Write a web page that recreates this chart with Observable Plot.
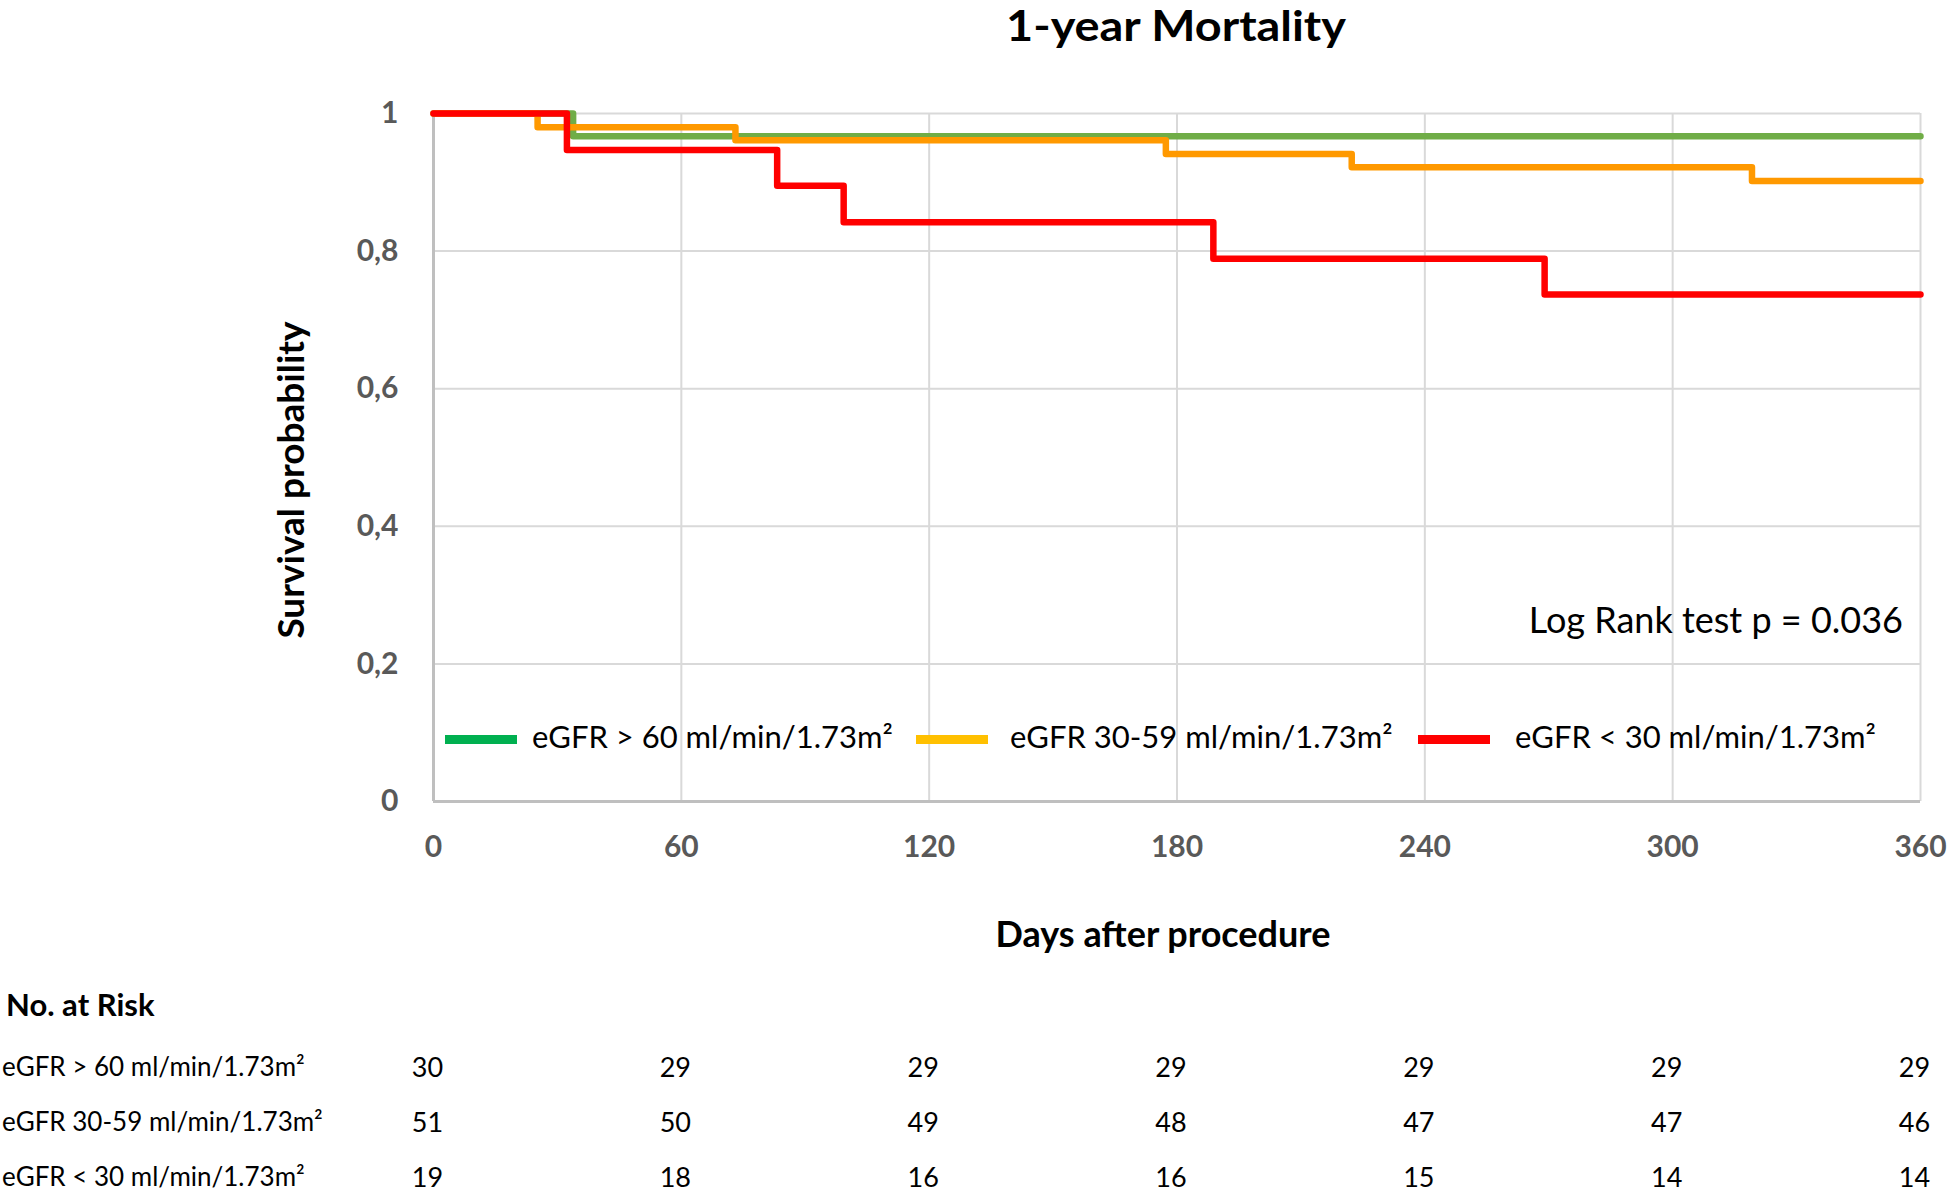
<!DOCTYPE html>
<html>
<head>
<meta charset="utf-8">
<script src="https://cdn.jsdelivr.net/npm/d3@7"></script>
<script src="https://cdn.jsdelivr.net/npm/@observablehq/plot@0.6"></script>
<style>
  body { margin: 0; background: #fff; }
  #chart { position: relative; width: 1948px; height: 1191px; }
</style>
</head>
<body>
<div id="chart"></div>
<script>
// ---- data ----
const groups = ["eGFR > 60 ml/min/1.73m²", "eGFR 30-59 ml/min/1.73m²", "eGFR < 30 ml/min/1.73m²"];
const lineColors = ["#70AD47", "#FF9900", "#FF0000"];
const legendColors = ["#00B050", "#FFC000", "#FF0000"];

// Kaplan-Meier step points (day, survival)
const greenDays  = [0, 33.8, 360];
const greenSurv  = [1, 0.967, 0.967];
const orangeDays = [0, 25.2, 73.1, 177.3, 222.3, 319.2, 360];
const orangeSurv = [1, 0.980, 0.961, 0.941, 0.922, 0.902, 0.902];
const redDays    = [0, 32.3, 83.2, 99.3, 188.8, 269.0, 360];
const redSurv    = [1, 0.947, 0.895, 0.842, 0.789, 0.737, 0.737];

const xTicks = [0, 60, 120, 180, 240, 300, 360];
const yTicks = [0, 0.2, 0.4, 0.6, 0.8, 1];
const yTickLabels = ["0", "0,2", "0,4", "0,6", "0,8", "1"];

const riskDays  = [0, 60, 120, 180, 240, 300, 360];
const riskGreen = [30, 29, 29, 29, 29, 29, 29];
const riskOrange = [51, 50, 49, 48, 47, 47, 46];
const riskRed   = [19, 18, 16, 16, 15, 14, 14];

const title = "1-year Mortality";
const xLabel = "Days after procedure";
const yLabel = "Survival probability";
const pText = "Log Rank test p = 0.036";
const riskTitle = "No. at Risk";

// ---- build ----
const toRows = (days, surv) => days.map((d, i) => ({day: d, surv: surv[i]}));
const series = [toRows(greenDays, greenSurv), toRows(orangeDays, orangeSurv), toRows(redDays, redSurv)];
const riskSeries = [riskGreen, riskOrange, riskRed].map(arr => riskDays.map((d, i) => ({day: d, n: arr[i]})));

const FONT = "Lato, 'Open Sans', sans-serif";
const W = 1948, H = 1191;
const M = {top: 113, right: 28, bottom: 390, left: 433};

const rowDy = [275, 330, 385];

const plot = Plot.plot({
  width: W, height: H,
  marginTop: M.top, marginRight: M.right, marginBottom: M.bottom, marginLeft: M.left,
  style: {fontFamily: FONT, background: "#fff", overflow: "visible"},
  x: {domain: [0, 360], ticks: xTicks},
  y: {domain: [0, 1], ticks: yTicks},
  marks: [
    Plot.gridX(xTicks.filter(d => d > 0), {stroke: "#D9D9D9", strokeOpacity: 1, strokeWidth: 2}),
    Plot.gridY(yTicks.filter(d => d > 0), {stroke: "#D9D9D9", strokeOpacity: 1, strokeWidth: 2}),
    Plot.ruleX([0], {stroke: "#BFBFBF", strokeWidth: 3}),
    Plot.ruleY([0], {stroke: "#BFBFBF", strokeWidth: 3}),
    Plot.axisX({ticks: xTicks, tickSize: 0, tickPadding: 34, fontSize: 30, fontWeight: "bold", fill: "#595959", label: null}),
    Plot.axisY({ticks: yTicks, tickSize: 0, tickPadding: 35, fontSize: 30, fontWeight: "bold", fill: "#595959", label: null,
      tickFormat: d => yTickLabels[yTicks.findIndex(t => Math.abs(t - d) < 1e-9)]}),
    ...series.map((s, i) => Plot.line(s, {x: "day", y: "surv", stroke: lineColors[i], strokeWidth: 6.5, curve: "step-after", strokeLinejoin: "round"})),
    ...riskSeries.map((r, i) => Plot.text(r, {x: "day", text: "n", frameAnchor: "bottom", dy: rowDy[i], dx: -6, lineAnchor: "bottom", fontSize: 27, fill: "#000"}))
  ]
});
document.getElementById("chart").appendChild(plot);

// ---- annotations (title, axis titles, legend, table labels) ----
const svg = d3.select(plot);
const addText = (x, y, str, opts = {}) => {
  const t = svg.append("text")
    .attr("x", x).attr("y", y)
    .attr("font-family", FONT)
    .attr("font-size", opts.size || 28)
    .attr("font-weight", opts.weight || "normal")
    .attr("fill", opts.fill || "#000")
    .attr("text-anchor", opts.anchor || "start")
    .text(str);
  if (opts.rotate) t.attr("transform", `rotate(-90, ${x}, ${y})`);
  if (opts.length) t.attr("textLength", opts.length).attr("lengthAdjust", "spacingAndGlyphs");
  return t;
};
addText(1176, 41, title, {size: 42, weight: "bold", anchor: "middle", length: 340});
addText(1163, 947, xLabel, {size: 36, weight: "bold", anchor: "middle"});
addText(304, 480, yLabel, {size: 37, weight: "bold", anchor: "middle", rotate: true});
addText(1903, 633, pText, {size: 36, anchor: "end"});

// legend
const legendX = [445, 916, 1418];
const legendTextX = [532, 1010, 1515];
groups.forEach((g, i) => {
  svg.append("rect").attr("x", legendX[i]).attr("y", 735).attr("width", 72).attr("height", 9).attr("fill", legendColors[i]);
  addText(legendTextX[i], 748, g, {size: 31});
});

// at-risk table labels
addText(6, 1016, riskTitle, {size: 31, weight: "bold"});
const rowBase = [1076, 1131, 1186];
groups.forEach((g, i) => addText(2, rowBase[i], g, {size: 26}));
</script>
</body>
</html>
